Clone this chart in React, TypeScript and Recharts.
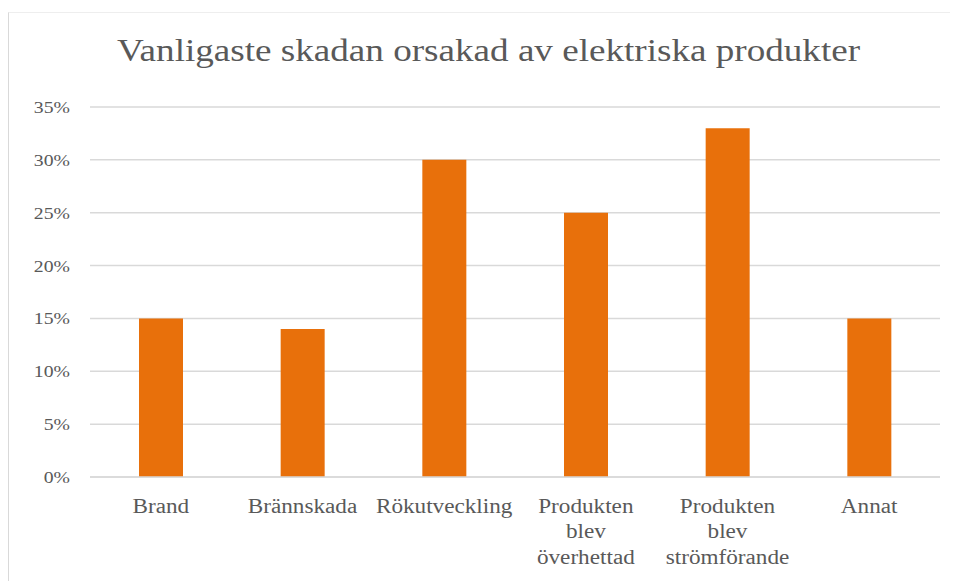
import React from 'react';
import { BarChart, Bar, XAxis, YAxis, CartesianGrid } from 'recharts';

const categories = [
  'Brand',
  'Brännskada',
  'Rökutveckling',
  'Produkten blev överhettad',
  'Produkten blev strömförande',
  'Annat',
];
const shares = [15, 14, 30, 25, 33, 15];
const yTicks = [0, 5, 10, 15, 20, 25, 30, 35];

const TITLE = 'Vanligaste skadan orsakad av elektriska produkter';
const FONT = "'Liberation Serif', 'Times New Roman', serif";
const TEXT_GREY = '#595959';
const GRID_GREY = '#d9d9d9';
const BAR_ORANGE = '#e8700b';

// the picture is a bit stretched sideways, so the text is too
const STRETCH = 1.16;

const data = categories.map((name, i) => ({ name, value: shares[i] }));

const XTick = ({ x, y, payload }: any) => {
  const lines = String(payload.value).split(' ');
  return (
    <g transform={`translate(${x},${y}) scale(${STRETCH},1)`}>
      {lines.map((line, i) => (
        <text
          key={i}
          x={0}
          y={36 + i * 25.5}
          textAnchor="middle"
          fill={TEXT_GREY}
          fontFamily={FONT}
          fontSize={20}
          style={{ fontFamily: FONT }}
        >
          {line}
        </text>
      ))}
    </g>
  );
};

const YTick = ({ x, y, payload }: any) => (
  <g transform={`translate(${x - 20},${y}) scale(${STRETCH},1)`}>
    <text
      x={0}
      y={0}
      dy={6}
      textAnchor="end"
      fill={TEXT_GREY}
      fontFamily={FONT}
      fontSize={17}
      style={{ fontFamily: FONT }}
    >
      {`${payload.value}%`}
    </text>
  </g>
);

export default function App() {
  return (
    <div
      style={{
        position: 'relative',
        width: 950,
        height: 573,
        overflow: 'hidden',
        background: '#fff',
        fontFamily: FONT,
      }}
    >
      <div
        style={{
          position: 'absolute',
          left: 0,
          top: 4,
          width: 960,
          height: 580,
          borderLeft: `1px solid ${GRID_GREY}`,
          borderTop: `1px solid #eeeeee`,
        }}
      />
      <div
        style={{
          position: 'absolute',
          left: -8,
          top: 24,
          width: 977,
          textAlign: 'center',
          fontFamily: FONT,
          fontSize: 32,
          color: TEXT_GREY,
          whiteSpace: 'nowrap',
          transform: `scaleX(${STRETCH})`,
        }}
      >
        {TITLE}
      </div>
      <div style={{ position: 'absolute', left: -8, top: -8 }}>
        <BarChart
          width={958}
          height={581}
          data={data}
          margin={{ top: 107, right: 18, bottom: 0, left: 30 }}
          barCategoryGap="0%"
          style={{ fontFamily: FONT }}
        >
          <CartesianGrid vertical={false} stroke={GRID_GREY} strokeWidth={1.5} />
          <XAxis
            dataKey="name"
            height={104}
            interval={0}
            tickSize={0}
            tickMargin={0}
            tickLine={false}
            axisLine={{ stroke: GRID_GREY, strokeWidth: 1.5 }}
            tick={<XTick />}
          />
          <YAxis
            width={60}
            domain={[0, 35]}
            ticks={yTicks}
            tickSize={0}
            tickMargin={0}
            tickLine={false}
            axisLine={false}
            tick={<YTick />}
          />
          <Bar dataKey="value" fill={BAR_ORANGE} barSize={44} isAnimationActive={false} />
        </BarChart>
      </div>
    </div>
  );
}
